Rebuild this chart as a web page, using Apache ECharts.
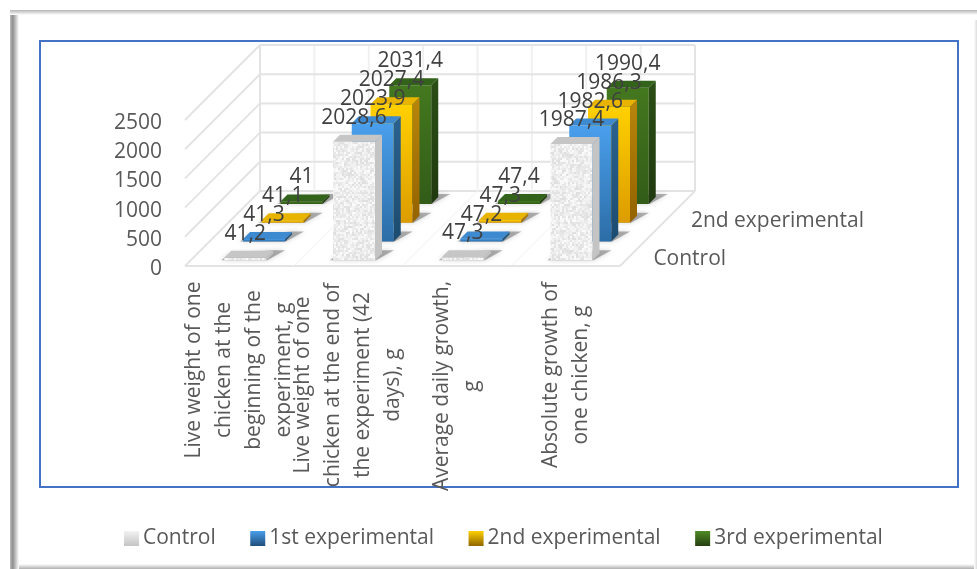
<!DOCTYPE html>
<html>
<head>
<meta charset="utf-8">
<style>
html, body { margin: 0; padding: 0; background: #fff; }
#main { width: 977px; height: 569px; }
</style>
<script src="https://cdn.jsdelivr.net/npm/echarts@6/dist/echarts.min.js"></script>
</head>
<body>
<div id="main"></div>
<script>
var categories = [
    'Live weight of one\nchicken at the\nbeginning of the\nexperiment, g',
    'Live weight of one\nchicken at the end of\nthe experiment (42\ndays), g',
    'Average daily growth,\ng',
    'Absolute growth of\none chicken, g'
];
var seriesNames = ['Control', '1st experimental', '2nd experimental', '3rd experimental'];
var controlValues = [41.2, 2028.6, 47.3, 1987.4];
var firstValues = [41.3, 2023.9, 47.2, 1982.6];
var secondValues = [41.1, 2027.4, 47.3, 1986.3];
var thirdValues = [41, 2031.4, 47.4, 1990.4];
var valueTicks = [0, 500, 1000, 1500, 2000, 2500];
var depthLabels = ['Control', '', '2nd experimental', ''];

var FONT = '"Open Sans", sans-serif';
var TEXT_COLOR = '#595959';
var DEPTH = 75;                 // how far the floor runs back and to the right, px
var ROW = DEPTH / 4;
var BAR_DEPTH = 7;
var BAR_WIDTH = 42;

// stone texture for the control bars
function stoneTexture() {
    var c = document.createElement('canvas');
    c.width = 96;
    c.height = 96;
    var ctx = c.getContext('2d');
    ctx.fillStyle = '#f0f0f0';
    ctx.fillRect(0, 0, 96, 96);
    for (var y = 0; y < 96; y += 2) {
        for (var x = 0; x < 96; x += 2) {
            var h = Math.sin(x * 12.9898 + y * 78.233) * 43758.5453;
            h = h - Math.floor(h);
            var g = Math.round(222 + h * 30);
            ctx.fillStyle = 'rgb(' + g + ',' + g + ',' + g + ')';
            ctx.fillRect(x, y, 3, 3);
        }
    }
    return c;
}
var stone = { image: stoneTexture(), repeat: 'repeat' };

function vGrad(a, b) {
    return new echarts.graphic.LinearGradient(0, 0, 0, 1, [
        { offset: 0, color: a },
        { offset: 1, color: b }
    ]);
}

var faces = [
    { front: stone, side: '#c4c4c4', top: '#c6c6c6', legend: vGrad('#f2f2f2', '#c4c4c4') },
    { front: vGrad('#4a9fec', '#2c6da6'), side: vGrad('#2a628f', '#1d4b70'), top: '#3d8ad0', legend: vGrad('#4a9fec', '#1f4e79') },
    { front: vGrad('#ffd000', '#dc9c00'), side: vGrad('#b8860b', '#946200'), top: '#e8b400', legend: vGrad('#ffd000', '#8f6500') },
    { front: vGrad('#44781f', '#325c18'), side: vGrad('#2a4f15', '#20390f'), top: '#33621a', legend: vGrad('#4f8a24', '#263f12') }
];

function poly(points, fill, z2, extra) {
    var el = {
        type: 'polygon',
        z2: z2,
        shape: { points: points },
        style: { fill: fill }
    };
    if (extra) {
        el.style.shadowBlur = extra.blur;
        el.style.shadowColor = extra.color;
    }
    return el;
}

function renderBars(row) {
    return function (params, api) {
        var value = api.value(1);
        var base = api.coord([api.value(0), 0]);
        var top = api.coord([api.value(0), value]);
        var off = ROW * row + (ROW - BAR_DEPTH) / 2;
        var x0 = base[0] - BAR_WIDTH / 2 + off;
        var x1 = x0 + BAR_WIDTH;
        var yb = base[1] - off;
        var yt = top[1] - off;
        var d = BAR_DEPTH;
        var f = faces[row];
        var order = 40 - row * 10;
        var kids = [];
        // soft shadow on the floor
        kids.push(poly([[x0 - 3, yb], [x1 + 1, yb], [x1 + d + 12, yb - d - 3], [x1 + d, yb - d - 3], [x0 + 6, yb - d]],
            'rgba(90,90,90,0.45)', order - 1, { blur: 5, color: 'rgba(90,90,90,0.6)' }));
        kids.push(poly([[x0, yb], [x1, yb], [x1, yt], [x0, yt]], f.front, order));
        kids.push(poly([[x1, yb], [x1 + d, yb - d], [x1 + d, yt - d], [x1, yt]], f.side, order));
        kids.push(poly([[x0, yt], [x1, yt], [x1 + d, yt - d], [x0 + d, yt - d]], f.top, order));
        kids.push({
            type: 'text',
            z2: 100,
            style: {
                x: (x0 + x1) / 2,
                y: yt - d - 17,
                text: String(value).replace('.', ','),
                fill: '#404040',
                font: '21px ' + FONT,
                align: 'center',
                verticalAlign: 'middle'
            }
        });
        return { type: 'group', children: kids };
    };
}

function line(a, b, color, w) {
    return {
        type: 'line',
        shape: { x1: a[0], y1: a[1], x2: b[0], y2: b[1] },
        style: { stroke: color, lineWidth: w }
    };
}

// back wall, left wall and floor rule lines
function renderWalls(params, api) {
    var p = api.coord([0, api.value(0)]);
    var band = api.size([1, 0])[0];
    var left = p[0] - band / 2;
    var right = left + band * categories.length;
    var kids = [];
    kids.push(line([left, p[1]], [left + DEPTH, p[1] - DEPTH], '#e3e3e3', 2));
    kids.push(line([left + DEPTH, p[1] - DEPTH], [right + DEPTH, p[1] - DEPTH], '#e3e3e3', 2));
    if (params.dataIndex === 0) {
        var topY = api.coord([0, valueTicks[valueTicks.length - 1]])[1] - DEPTH;
        var i;
        kids.push(line([left, p[1]], [right, p[1]], '#e3e3e3', 2));
        kids.push(line([right, p[1]], [right + DEPTH, p[1] - DEPTH], '#e3e3e3', 2));
        for (i = 0; i <= categories.length * 2; i++) {
            var x = left + i * band / 2;
            var edge = i === 0 || i === categories.length * 2;
            kids.push(line([x + DEPTH, p[1] - DEPTH], [x + DEPTH, topY], edge ? '#e3e3e3' : '#f0f0f0', 2));
            if (i % 2 === 0 && !edge) {
                kids.push(line([x, p[1]], [x + DEPTH, p[1] - DEPTH], '#f0f0f0', 1));
            }
        }
    }
    return { type: 'group', children: kids };
}

function renderDepth(params, api) {
    var p = api.coord([categories.length - 1, 0]);
    var band = api.size([1, 0])[0];
    var row = api.value(0);
    var off = ROW * (row + 0.5);
    return {
        type: 'text',
        style: {
            x: p[0] + band / 2 + off + 24,
            y: p[1] - off + 2,
            text: depthLabels[row],
            fill: TEXT_COLOR,
            font: '21px ' + FONT,
            align: 'left',
            verticalAlign: 'middle'
        }
    };
}

var allValues = [controlValues, firstValues, secondValues, thirdValues];
var barSeries = seriesNames.map(function (name, row) {
    return {
        name: name,
        type: 'custom',
        coordinateSystem: 'cartesian2d',
        z: 3,
        clip: false,
        itemStyle: { color: faces[row].legend },
        renderItem: renderBars(row),
        data: allValues[row].map(function (v, i) { return [i, v]; }),
        encode: { x: 0, y: 1 }
    };
});

var labelShift = [0, 30, 32, 10];   // keeps the long labels hanging from the same top line

var option = {
    animation: false,
    textStyle: { fontFamily: FONT },
    legend: {
        left: 119,
        top: 523,
        itemWidth: 15,
        itemHeight: 15,
        itemGap: 34.5,
        icon: 'rect',
        data: seriesNames,
        selectedMode: false,
        textStyle: { fontSize: 21, color: TEXT_COLOR, fontFamily: FONT, padding: [0, 0, 0, -1] }
    },
    grid: { left: 185, top: 120, width: 435, height: 146, containLabel: false, outerBoundsMode: 'none' },
    xAxis: {
        type: 'category',
        data: categories.map(function (c, i) {
            return {
                value: c,
                textStyle: { align: 'center', verticalAlign: 'middle', padding: [0, labelShift[i], 0, 0] }
            };
        }),
        axisLine: { show: false },
        axisTick: { show: false },
        axisLabel: {
            interval: 0,
            rotate: 90,
            hideOverlap: false,
            margin: 104,
            align: 'center',
            verticalAlign: 'middle',
            fontSize: 21,
            lineHeight: 30,
            color: TEXT_COLOR,
            fontFamily: FONT
        }
    },
    yAxis: {
        type: 'value',
        min: 0,
        max: 2500,
        interval: 500,
        axisLine: { show: false },
        axisTick: { show: false },
        splitLine: { show: false },
        axisLabel: {
            margin: 23,
            fontSize: 21,
            color: TEXT_COLOR,
            fontFamily: FONT,
            verticalAlign: 'top',
            lineHeight: 6,
            formatter: function (v) { return String(v); }
        }
    },
    graphic: [
        // outer bevelled frame
        { type: 'rect', z: -3, shape: { x: 10, y: 10, width: 9, height: 559 }, style: {
            fill: new echarts.graphic.LinearGradient(0, 0, 1, 0, [
                { offset: 0, color: '#bdbdbd' }, { offset: 0.3, color: '#8f8f8f' }, { offset: 1, color: '#ffffff' }
            ]) } },
        { type: 'rect', z: -3, shape: { x: 10, y: 10, width: 967, height: 5 }, style: {
            fill: new echarts.graphic.LinearGradient(0, 0, 0, 1, [
                { offset: 0, color: '#b5b5b5' }, { offset: 1, color: '#ffffff' }
            ]) } },
        { type: 'rect', z: -3, shape: { x: 19, y: 564, width: 958, height: 5 }, style: {
            fill: new echarts.graphic.LinearGradient(0, 0, 0, 1, [
                { offset: 0, color: '#ffffff' }, { offset: 1, color: '#b0b0b0' }
            ]) } },
        { type: 'rect', z: -3, shape: { x: 974, y: 20, width: 3, height: 549 }, style: {
            fill: new echarts.graphic.LinearGradient(0, 0, 1, 0, [
                { offset: 0, color: '#ffffff' }, { offset: 1, color: '#dcdcdc' }
            ]) } },
        // chart area border
        { type: 'rect', z: -2, shape: { x: 40, y: 41, width: 918, height: 446 }, style: { fill: 'none', stroke: '#4472c4', lineWidth: 2 } }
    ],
    series: [
        {
            name: 'walls',
            type: 'custom',
            coordinateSystem: 'cartesian2d',
            z: 1,
            clip: false,
            silent: true,
            renderItem: renderWalls,
            data: valueTicks.map(function (v) { return [v]; }),
            encode: { y: 0 }
        },
        {
            name: 'depthAxis',
            type: 'custom',
            coordinateSystem: 'cartesian2d',
            z: 1,
            clip: false,
            silent: true,
            renderItem: renderDepth,
            data: depthLabels.map(function (d, i) { return [i]; }),
            encode: { y: 0 }
        }
    ].concat(barSeries)
};

var chart = echarts.init(document.getElementById('main'), null, { renderer: 'canvas' });
chart.setOption(option);
</script>
</body>
</html>
